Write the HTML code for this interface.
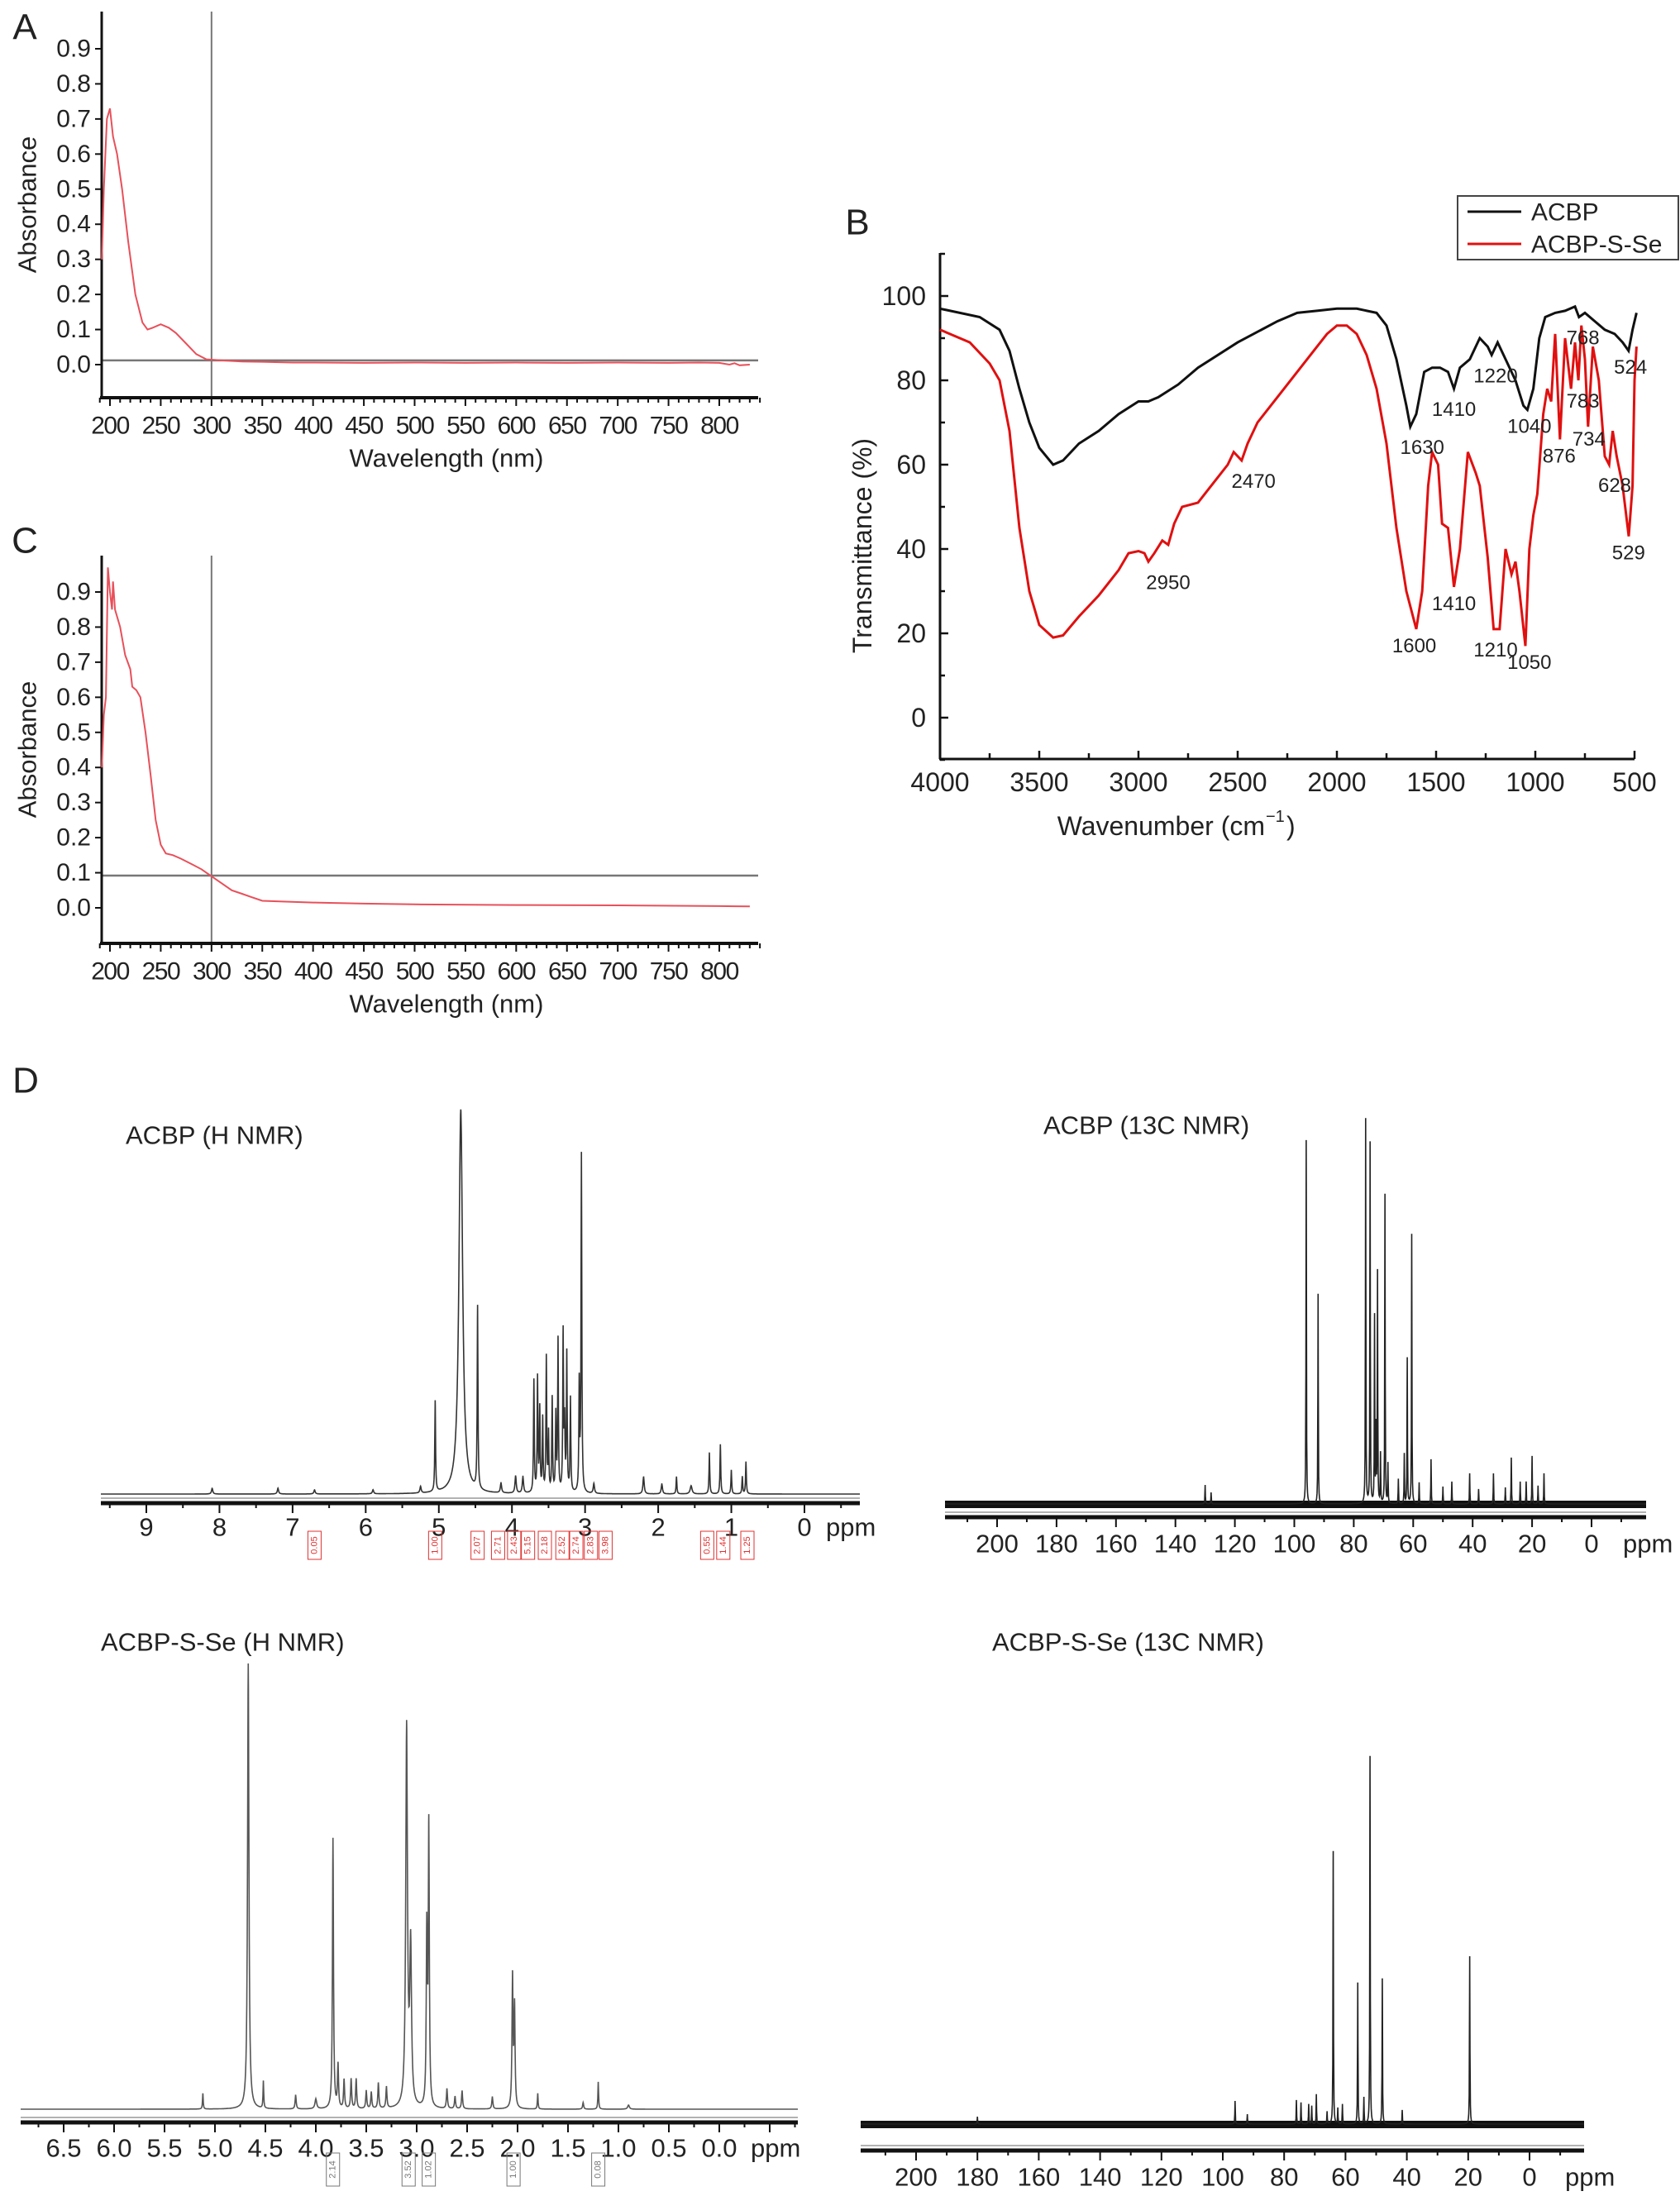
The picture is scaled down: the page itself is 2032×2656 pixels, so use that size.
<!DOCTYPE html>
<html><head><meta charset="utf-8"><style>
html,body{margin:0;padding:0;background:#fff;}
svg{display:block;font-family:"Liberation Sans",Arial,sans-serif;}
</style></head><body>
<svg id="fig" width="2032" height="2656" viewBox="0 0 2032 2656" xmlns="http://www.w3.org/2000/svg">
<rect width="2032" height="2656" fill="#fff"/>
</svg>
<script>
// ---------- Panel A data (UV) ----------
const uvTicksX = [200,250,300,350,400,450,500,550,600,650,700,750,800];
const uvTicksY = [0.0,0.1,0.2,0.3,0.4,0.5,0.6,0.7,0.8,0.9];
const uvA_wl  = [192,194,197,200,203,207,212,218,225,232,237,242,250,258,265,275,285,295,310,330,350,380,400,450,500,550,600,650,700,750,780,800,810,815,820,830];
const uvA_abs = [0.30,0.50,0.70,0.73,0.65,0.60,0.50,0.35,0.20,0.12,0.10,0.105,0.115,0.105,0.09,0.06,0.03,0.015,0.012,0.009,0.008,0.006,0.006,0.005,0.006,0.005,0.006,0.005,0.006,0.005,0.006,0.005,0.0,0.004,-0.002,0.0];
const uvA_hline = 0.012;
const uvA_vline = 300;
// ---------- Panel C data (UV) ----------
const uvC_wl  = [192,194,196,198,200,202,203,205,210,215,220,222,226,230,235,240,245,250,255,262,270,280,290,300,310,320,330,340,350,370,400,450,500,600,700,800,830];
const uvC_abs = [0.40,0.55,0.60,0.97,0.90,0.85,0.93,0.85,0.80,0.72,0.68,0.63,0.62,0.60,0.50,0.38,0.25,0.18,0.155,0.15,0.14,0.125,0.11,0.09,0.07,0.05,0.04,0.03,0.02,0.018,0.015,0.012,0.010,0.008,0.007,0.005,0.004];
const uvC_hline = 0.092;
const uvC_vline = 300;
// ---------- Panel B data (FTIR) ----------
const irTicksX = [4000,3500,3000,2500,2000,1500,1000,500];
const irTicksY = [0,20,40,60,80,100];
const irBlack_wn = [4000,3800,3700,3650,3600,3550,3500,3430,3380,3300,3200,3100,3000,2950,2900,2800,2700,2500,2300,2200,2100,2000,1900,1800,1750,1700,1650,1630,1600,1560,1520,1480,1440,1410,1380,1330,1280,1240,1220,1190,1160,1100,1060,1040,1010,980,950,900,850,800,780,750,700,650,600,560,530,510,490];
const irBlack_T  = [97,95,92,87,78,70,64,60,61,65,68,72,75,75,76,79,83,89,94,96,96.5,97,97,96,93,85,74,69,72,82,83,83,82,78,83,85,90,88,86,89,86,80,74,73,78,90,95,96,96.5,97.5,95,96,94,92,91,89,87,92,96];
const irRed_wn = [4000,3850,3750,3700,3650,3600,3550,3500,3430,3380,3300,3200,3100,3050,3000,2970,2950,2920,2880,2850,2820,2780,2700,2650,2600,2550,2520,2480,2450,2400,2300,2200,2100,2050,2000,1950,1900,1850,1800,1750,1700,1650,1600,1570,1540,1520,1490,1470,1440,1410,1380,1340,1300,1280,1240,1210,1180,1150,1120,1100,1080,1050,1030,1010,990,960,940,920,900,876,850,820,800,783,768,750,734,710,680,650,628,610,590,560,529,510,500,490];
const irRed_T  = [92,89,84,80,68,45,30,22,19,19.5,24,29,35,39,39.5,39,37,39,42,41,46,50,51,54,57,60,63,61,65,70,76,82,88,91,93,93,91,86,78,65,45,30,21,30,55,63,60,46,45,31,40,63,58,55,38,21,21,40,34,37,30,17,40,48,53,72,78,75,91,66,90,78,89,80,93,85,69,88,80,62,60,68,62,55,43,55,80,88];
const irLabels = ["1630","1410","1220","1040","768","783","524","876","734","628","529","2470","2950","1410","1600","1210","1050"];
const irLabelWn = [1570,1410,1200,1030,760,760,520,880,730,600,530,2420,2850,1410,1610,1200,1030];
const irLabelT  = [64,73,81,69,90,75,83,62,66,55,39,56,32,27,17,16,13];
// ---------- Panel D data (NMR) ----------
const h1Ticks = [9,8,7,6,5,4,3,2,1,0];
const h1Peaks_ppm = [4.70,4.47,5.05,3.05,3.08,3.30,3.37,3.25,3.53,3.65,3.70,3.45,3.58,3.20,3.40,3.62,3.50,3.28,1.30,1.15,1.00,0.80,0.85,1.75,2.20,1.95,4.15,3.95,1.55,2.88,8.1,7.2,6.7,5.9,5.25,3.85];
const h1Peaks_h   = [465,221,110,408,130,192,184,167,163,138,136,114,89,114,93,100,70,80,50,60,29,39,21,21,21,12,12,21,10,12,7,7,5,5,8,20];
const h1Peaks_w   = [0.03,0.006,0.006,0.006,0.006,0.006,0.006,0.006,0.006,0.006,0.006,0.006,0.006,0.006,0.006,0.006,0.006,0.006,0.006,0.006,0.006,0.006,0.006,0.006,0.01,0.01,0.01,0.01,0.015,0.01,0.01,0.01,0.01,0.01,0.01,0.01];
const h1Integrals = ["0.05","1.00","2.07","2.71","2.43","5.15","2.18","2.52","2.74","2.83","3.98","0.55","1.44","1.25"];
const h1IntegralPpm = [6.7,5.05,4.47,4.19,3.97,3.78,3.55,3.31,3.12,2.92,2.72,1.33,1.11,0.78];

const c1Ticks = [200,180,160,140,120,100,80,60,40,20,0];
const c1Peaks_ppm = [96,92,76,74.5,72,73,69.5,60.5,62,72.5,68.5,63,54,41,33,27,20,16,130,128,50,47,24,22,71,65,58,38,29,18];
const c1Peaks_h   = [440,254,465,436,279,225,374,326,176,89,48,60,54,37,37,56,58,37,23,14,21,27,27,27,60,30,25,18,20,22];

const h2Ticks = [6.5,6.0,5.5,5.0,4.5,4.0,3.5,3.0,2.5,2.0,1.5,1.0,0.5,0.0];
const h2Peaks_ppm = [4.67,3.83,3.10,3.06,2.88,2.90,2.05,2.03,5.12,4.52,4.20,4.00,1.20,1.80,3.78,3.60,3.65,3.38,3.30,3.50,2.70,2.55,2.25,1.35,0.90,3.72,3.45,2.62];
const h2Peaks_h   = [539,327,459,190,338,209,158,121,19,33,17,12,33,19,52,36,36,31,26,22,24,22,15,8,5,35,20,15];
const h2Peaks_w   = [0.008,0.006,0.01,0.01,0.006,0.006,0.006,0.006,0.004,0.004,0.006,0.01,0.004,0.004,0.006,0.006,0.006,0.006,0.006,0.006,0.006,0.006,0.006,0.006,0.01,0.006,0.006,0.006];
const h2Integrals = ["2.14","3.52","1.02","1.00","0.08"];
const h2IntegralPpm = [3.83,3.08,2.88,2.04,1.20];

const c2Ticks = [200,180,160,140,120,100,80,60,40,20,0];
const c2Peaks_ppm = [52,64,56,48,19.5,96,92,76,74.5,69.5,72,71,61,62.5,54,41.5,180,66];
const c2Peaks_h   = [445,330,171,176,203,28,12,29,26,36,24,22,24,19,32,17,9,15];

// ---------- helpers ----------
const NS = "http://www.w3.org/2000/svg";
const svg = document.getElementById('fig');
function mk(tag, attrs, parent){
  const e = document.createElementNS(NS, tag);
  for (const k in attrs) e.setAttribute(k, attrs[k]);
  (parent||svg).appendChild(e);
  return e;
}
function txt(s, x, y, size, anchor, parent, extra){
  const t = mk('text', Object.assign({x:x, y:y, 'font-size':size, 'text-anchor':anchor||'middle', 'dominant-baseline':'central', fill:'#222'}, extra||{}), parent);
  t.textContent = s;
  return t;
}
function lin(d0,d1,p0,p1){ return v => p0 + (v-d0)*(p1-p0)/(d1-d0); }

// ---------- UV panel ----------
function uvPanel(name, letter, oy, top, axisY, y0, y9, wl, ab, hline, vline){
  const g = mk('g', {});
  
  
  const X = lin(200, 800, 133, 870);
  const Y = lin(0, 0.9, y0, y9);
  const L = txt(letter, 30, oy, 44, 'middle', g);
  
  
  const hl = mk('line', {x1:123, x2:917, y1:Y(hline), y2:Y(hline), stroke:'#777', 'stroke-width':2.5}, g);
  
  
  const vl = mk('line', {x1:X(vline), x2:X(vline), y1:top, y2:axisY, stroke:'#777', 'stroke-width':2}, g);
  
  
  const ya = mk('line', {x1:123, x2:123, y1:top, y2:axisY, stroke:'#111', 'stroke-width':3}, g);
  
  
  const xa = mk('line', {x1:121, x2:917, y1:axisY, y2:axisY, stroke:'#111', 'stroke-width':4}, g);
  
  
  for (let w=190; w<=840; w+=10){
    const major = (w % 50 === 0);
    mk('line', {x1:X(w), x2:X(w), y1:axisY, y2:axisY+(major?10:6), stroke:'#111', 'stroke-width':2}, g);
  }
  uvTicksX.forEach(v => {
    const t = txt(String(v), X(v), axisY+34, 30, 'middle', g, {'letter-spacing':'-1.5'});
    
    
  });
  uvTicksY.forEach(v => {
    mk('line', {x1:115, x2:123, y1:Y(v), y2:Y(v), stroke:'#111', 'stroke-width':2}, g);
    const t = txt(v.toFixed(1), 110, Y(v), 30, 'end', g);
    
    
  });
  const xt = txt('Wavelength (nm)', 540, axisY+73, 31, 'middle', g);
  
  
  const yc = (top+axisY)/2;
  const yt = txt('Absorbance', 33, yc, 31, 'middle', g, {transform:'rotate(-90 33 '+yc+')'});
  
  
  const d = wl.map((w,i)=> (i?'L':'M') + X(w).toFixed(1) + ' ' + Y(ab[i]).toFixed(1)).join(' ');
  const p = mk('path', {d:d, fill:'none', stroke:'#e8505a', 'stroke-width':2}, g);
  
  
}
uvPanel('panel-a-uv-chart', 'A', 33, 14, 481, 441, 59, uvA_wl, uvA_abs, uvA_hline, uvA_vline);
uvPanel('panel-c-uv-chart', 'C', 654, 672, 1141, 1098, 716, uvC_wl, uvC_abs, uvC_hline, uvC_vline);

// ---------- Panel B ----------
(function(){
  const g = mk('g', {});
  
  
  const X = lin(4000, 500, 1137, 1977);
  const Y = lin(0, 100, 868, 358);
  const L = txt('B', 1037, 269, 44, 'middle', g);
  
  
  const ya = mk('line', {x1:1137, x2:1137, y1:306, y2:918, stroke:'#111', 'stroke-width':3}, g);
  
  
  const xa = mk('line', {x1:1136, x2:1977, y1:918, y2:918, stroke:'#111', 'stroke-width':3}, g);
  
  
  for (let w=4000; w>=500; w-=250) mk('line', {x1:X(w), x2:X(w), y1:918, y2:918-(w%500===0?10:7), stroke:'#111', 'stroke-width':2.5}, g);
  for (let v=-10; v<=110; v+=10) mk('line', {x1:1137, x2:1137+(v%20===0?10:6), y1:Y(v), y2:Y(v), stroke:'#111', 'stroke-width':2.5}, g);
  irTicksX.forEach(v => {
    const t = txt(String(v), X(v), 946, 32, 'middle', g);
    
    
  });
  irTicksY.forEach(v => {
    const t = txt(String(v), 1120, Y(v), 32, 'end', g);
    
    
  });
  const xt = txt('Wavenumber (cm', 1530, 999, 32, 'end', g);
  
  
  const sup = txt('−1', 1531, 988, 20, 'start', g);
  
  
  const cl = txt(')', 1556, 999, 32, 'start', g);
  
  
  const yt = txt('Transmittance (%)', 1043, 660, 32, 'middle', g, {transform:'rotate(-90 1043 660)'});
  
  
  const db = irBlack_wn.map((w,i)=>(i?'L':'M')+X(w).toFixed(1)+' '+Y(irBlack_T[i]).toFixed(1)).join(' ');
  const pb = mk('path', {d:db, fill:'none', stroke:'#111', 'stroke-width':3}, g);
  
  
  const dr = irRed_wn.map((w,i)=>(i?'L':'M')+X(w).toFixed(1)+' '+Y(irRed_T[i]).toFixed(1)).join(' ');
  const pr = mk('path', {d:dr, fill:'none', stroke:'#e01010', 'stroke-width':3}, g);
  
  
  irLabels.forEach((s,i) => {
    const t = txt(s, X(irLabelWn[i]), Y(irLabelT[i]), 24, 'middle', g);
    
    
  });
  const lg = mk('g', {}, g);
  
  
  mk('rect', {x:1763, y:237, width:267, height:77, fill:'#fff', stroke:'#444', 'stroke-width':2}, lg);
  mk('line', {x1:1775, x2:1840, y1:256, y2:256, stroke:'#111', 'stroke-width':3}, lg);
  mk('line', {x1:1775, x2:1840, y1:295, y2:295, stroke:'#e01010', 'stroke-width':3}, lg);
  const l1 = txt('ACBP', 1852, 257, 30, 'start', lg);
  
  
  const l2 = txt('ACBP-S-Se', 1852, 296, 30, 'start', lg);
  
  
})();

// ---------- NMR panels ----------
const dLabel = txt('D', 31, 1307, 44, 'middle');



function nmrPanel(cfg){
  const g = mk('g', {});
  
  
  const X = lin(cfg.t0, cfg.t1, cfg.px0, cfg.px1);
  const inv = lin(cfg.px0, cfg.px1, cfg.t0, cfg.t1);
  const tt = txt(cfg.title, cfg.titleX, cfg.titleY, 31, 'start', g);
  
  
  if (cfg.band){
    const bd = mk('rect', {x:cfg.ax0, y:cfg.base-4, width:cfg.ax1-cfg.ax0, height:9, fill:'#111'}, g);
    
    
  }
  const xs = [];
  for (let x=cfg.ax0; x<=cfg.ax1; x+=0.5) xs.push(x);
  cfg.ppm.forEach(p => xs.push(X(p)));
  xs.sort((a,b)=>a-b);
  const pts = xs.map(x => {
    const p = inv(x); let s = 0;
    cfg.ppm.forEach((c,i)=>{ const w = cfg.w ? cfg.w[i] : cfg.defW; s += cfg.h[i]*w*w/((p-c)*(p-c)+w*w); });
    return [x, cfg.base - s];
  });
  const d = pts.map((q,i)=>(i?'L':'M')+q[0].toFixed(2)+' '+q[1].toFixed(1)).join(' ');
  const sp = mk('path', {d:d, fill:'none', stroke: cfg.color, 'stroke-width':cfg.sw}, g);
  
  
  const ax = mk('line', {x1:cfg.ax0, x2:cfg.ax1, y1:cfg.axisY, y2:cfg.axisY, stroke:'#111', 'stroke-width':5}, g);
  
  
  mk('line', {x1:cfg.ax0, x2:cfg.ax1, y1:cfg.axisY-6, y2:cfg.axisY-6, stroke:'#666', 'stroke-width':1}, g);
  const step = cfg.ticks[0]-cfg.ticks[1];
  for (let v=cfg.ticks[0]+step; v>=cfg.ticks[cfg.ticks.length-1]-2*step; v-=step/2){
    const x = X(v);
    if (x < cfg.ax0 || x > cfg.ax1) continue;
    const major = Math.abs(((v - cfg.ticks[0]) / step) - Math.round((v - cfg.ticks[0]) / step)) < 1e-6;
    mk('line', {x1:x, x2:x, y1:cfg.axisY, y2:cfg.axisY+(major?12:6), stroke:'#111', 'stroke-width':2}, g);
  }
  cfg.ticks.forEach(v => {
    const t = txt(cfg.fmt(v), X(v), cfg.labelY, 31, 'middle', g);
    
    
  });
  const pu = txt('ppm', cfg.ppmX, cfg.labelY, 31, 'start', g);
  
  
  if (cfg.ints){
    cfg.ints.forEach((s,i)=>{
      const x = X(cfg.intPpm[i]);
      const ig = mk('g', {}, g);
      
      
      mk('rect', {x:x-8, y:cfg.intY0, width:16, height:cfg.intY1-cfg.intY0, fill:'none', stroke:cfg.intColor, 'stroke-width':1}, ig);
      const cy = (cfg.intY0+cfg.intY1)/2;
      txt(s, x, cy, 11, 'middle', ig, {fill:cfg.intColor, transform:'rotate(-90 '+x+' '+cy+')'});
    });
  }
}
nmrPanel({name:'acbp-h-nmr-spectrum', title:'ACBP (H NMR)', titleX:152, titleY:1373, t0:9, t1:0, px0:177, px1:973, ax0:122, ax1:1040, base:1807, axisY:1818, labelY:1847, ppmX:999, ticks:h1Ticks, fmt:v=>String(v), ppm:h1Peaks_ppm, h:h1Peaks_h, w:h1Peaks_w, color:'#333', sw:1.6, ints:h1Integrals, intPpm:h1IntegralPpm, intY0:1852, intY1:1886, intColor:'#e03030'});
nmrPanel({name:'acbp-13c-nmr-spectrum', title:'ACBP (13C NMR)', titleX:1262, titleY:1361, t0:200, t1:0, px0:1206, px1:1925, ax0:1143, ax1:1991, base:1819, axisY:1835, labelY:1867, ppmX:1963, ticks:c1Ticks, fmt:v=>String(v), ppm:c1Peaks_ppm, h:c1Peaks_h, defW:0.08, color:'#222', sw:1.6, band:true});
nmrPanel({name:'acbp-s-se-h-nmr-spectrum', title:'ACBP-S-Se (H NMR)', titleX:122, titleY:1986, t0:6.5, t1:0, px0:77, px1:870, ax0:25, ax1:965, base:2551, axisY:2567, labelY:2598, ppmX:908, ticks:h2Ticks, fmt:v=>v.toFixed(1), ppm:h2Peaks_ppm, h:h2Peaks_h, w:h2Peaks_w, color:'#555', sw:1.6, ints:h2Integrals, intPpm:h2IntegralPpm, intY0:2604, intY1:2644, intColor:'#777'});
nmrPanel({name:'acbp-s-se-13c-nmr-spectrum', title:'ACBP-S-Se (13C NMR)', titleX:1200, titleY:1986, t0:200, t1:0, px0:1108, px1:1850, ax0:1041, ax1:1916, base:2569, axisY:2601, labelY:2633, ppmX:1893, ticks:c2Ticks, fmt:v=>String(v), ppm:c2Peaks_ppm, h:c2Peaks_h, defW:0.08, color:'#222', sw:1.6, band:true});
</script>
</body></html>
